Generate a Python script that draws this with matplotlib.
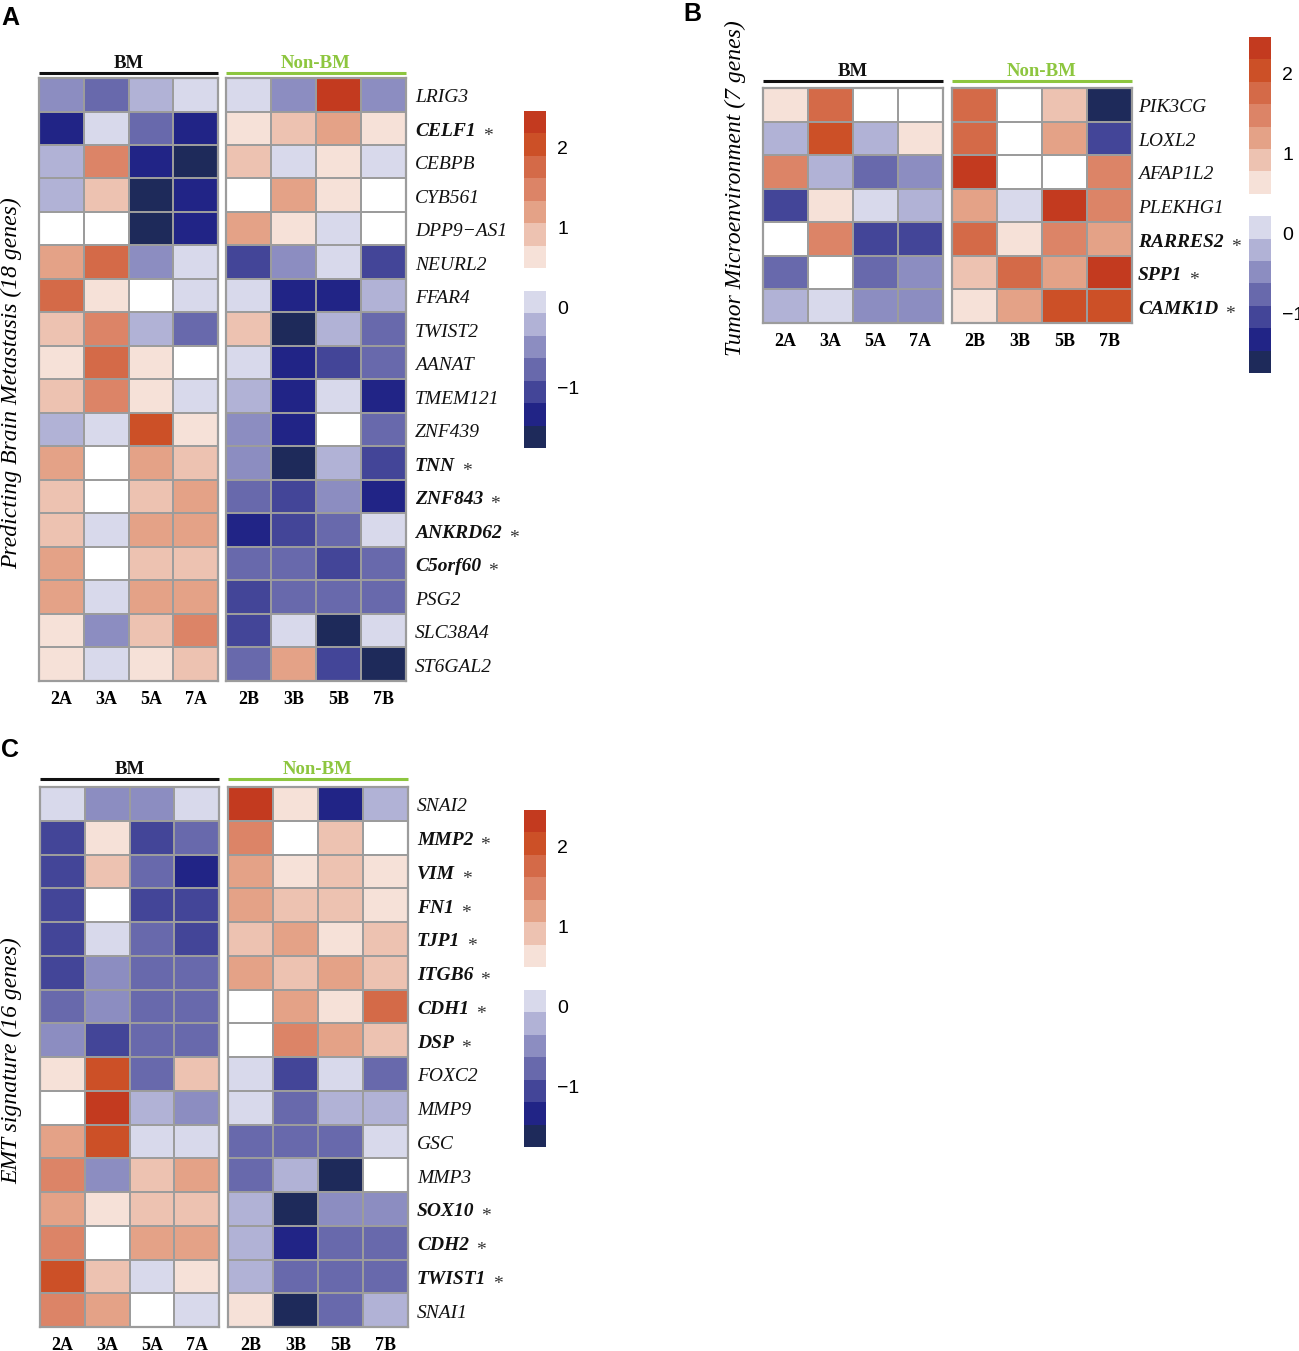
import matplotlib
matplotlib.use('Agg')
import matplotlib.pyplot as plt
import numpy as np
from matplotlib.colors import ListedColormap, BoundaryNorm
from matplotlib import transforms

# ---------------- data ----------------
samples_bm = ['2A', '3A', '5A', '7A']
samples_non = ['2B', '3B', '5B', '7B']

genes_a = ['LRIG3', 'CELF1', 'CEBPB', 'CYB561', 'DPP9\u2212AS1', 'NEURL2', 'FFAR4', 'TWIST2',
           'AANAT', 'TMEM121', 'ZNF439', 'TNN', 'ZNF843', 'ANKRD62', 'C5orf60', 'PSG2',
           'SLC38A4', 'ST6GAL2']
starred_a = ['CELF1', 'TNN', 'ZNF843', 'ANKRD62', 'C5orf60']
values_a = [
    [-0.5, -0.75, -0.2, 0.05, 0.05, -0.5, 2.3, -0.5],
    [-1.3, 0.05, -0.75, -1.3, 0.65, 0.9, 1.2, 0.65],
    [-0.2, 1.5, -1.3, -1.6, 0.9, 0.05, 0.65, 0.05],
    [-0.2, 0.9, -1.6, -1.3, 0.35, 1.2, 0.65, 0.35],
    [0.35, 0.35, -1.6, -1.3, 1.2, 0.65, 0.05, 0.35],
    [1.2, 1.75, -0.5, 0.05, -1.05, -0.5, 0.05, -1.05],
    [1.75, 0.65, 0.35, 0.05, 0.05, -1.3, -1.3, -0.2],
    [0.9, 1.5, -0.2, -0.75, 0.9, -1.6, -0.2, -0.75],
    [0.65, 1.75, 0.65, 0.35, 0.05, -1.3, -1.05, -0.75],
    [0.9, 1.5, 0.65, 0.05, -0.2, -1.3, 0.05, -1.3],
    [-0.2, 0.05, 2.05, 0.65, -0.5, -1.3, 0.35, -0.75],
    [1.2, 0.35, 1.2, 0.9, -0.5, -1.6, -0.2, -1.05],
    [0.9, 0.35, 0.9, 1.2, -0.75, -1.05, -0.5, -1.3],
    [0.9, 0.05, 1.2, 1.2, -1.3, -1.05, -0.75, 0.05],
    [1.2, 0.35, 0.9, 0.9, -0.75, -0.75, -1.05, -0.75],
    [1.2, 0.05, 1.2, 1.2, -1.05, -0.75, -0.75, -0.75],
    [0.65, -0.5, 0.9, 1.5, -1.05, 0.05, -1.6, 0.05],
    [0.65, 0.05, 0.65, 0.9, -0.75, 1.2, -1.05, -1.6],
]

genes_b = ['PIK3CG', 'LOXL2', 'AFAP1L2', 'PLEKHG1', 'RARRES2', 'SPP1', 'CAMK1D']
starred_b = ['RARRES2', 'SPP1', 'CAMK1D']
values_b = [
    [0.65, 1.75, 0.35, 0.35, 1.75, 0.35, 0.9, -1.6],
    [-0.2, 2.05, -0.2, 0.65, 1.75, 0.35, 1.2, -1.05],
    [1.5, -0.2, -0.75, -0.5, 2.3, 0.35, 0.35, 1.5],
    [-1.05, 0.65, 0.05, -0.2, 1.2, 0.05, 2.3, 1.5],
    [0.35, 1.5, -1.05, -1.05, 1.75, 0.65, 1.5, 1.2],
    [-0.75, 0.35, -0.75, -0.5, 0.9, 1.75, 1.2, 2.3],
    [-0.2, 0.05, -0.5, -0.5, 0.65, 1.2, 2.05, 2.05],
]

genes_c = ['SNAI2', 'MMP2', 'VIM', 'FN1', 'TJP1', 'ITGB6', 'CDH1', 'DSP', 'FOXC2', 'MMP9',
           'GSC', 'MMP3', 'SOX10', 'CDH2', 'TWIST1', 'SNAI1']
starred_c = ['MMP2', 'VIM', 'FN1', 'TJP1', 'ITGB6', 'CDH1', 'DSP', 'SOX10', 'CDH2', 'TWIST1']
values_c = [
    [0.05, -0.5, -0.5, 0.05, 2.3, 0.65, -1.3, -0.2],
    [-1.05, 0.65, -1.05, -0.75, 1.5, 0.35, 0.9, 0.35],
    [-1.05, 0.9, -0.75, -1.3, 1.2, 0.65, 0.9, 0.65],
    [-1.05, 0.35, -1.05, -1.05, 1.2, 0.9, 0.9, 0.65],
    [-1.05, 0.05, -0.75, -1.05, 0.9, 1.2, 0.65, 0.9],
    [-1.05, -0.5, -0.75, -0.75, 1.2, 0.9, 1.2, 0.9],
    [-0.75, -0.5, -0.75, -0.75, 0.35, 1.2, 0.65, 1.75],
    [-0.5, -1.05, -0.75, -0.75, 0.35, 1.5, 1.2, 0.9],
    [0.65, 2.05, -0.75, 0.9, 0.05, -1.05, 0.05, -0.75],
    [0.35, 2.3, -0.2, -0.5, 0.05, -0.75, -0.2, -0.2],
    [1.2, 2.05, 0.05, 0.05, -0.75, -0.75, -0.75, 0.05],
    [1.5, -0.5, 0.9, 1.2, -0.75, -0.2, -1.6, 0.35],
    [1.2, 0.65, 0.9, 0.9, -0.2, -1.6, -0.5, -0.5],
    [1.5, 0.35, 1.2, 1.2, -0.2, -1.3, -0.75, -0.75],
    [2.05, 0.9, 0.05, 0.65, -0.2, -0.75, -0.75, -0.75],
    [1.5, 1.2, 0.35, 0.05, 0.65, -1.6, -0.75, -0.2],
]

cbar_ticks = [-1, 0, 1, 2]
cbar_labels = ['\u22121', '0', '1', '2']

# ---------------- colour scale ----------------
colors = ['#1e2a5a', '#212486', '#434598', '#6869ac', '#8c8dc1', '#b1b2d6', '#d8d9eb',
          '#ffffff',
          '#f6e1d8', '#edc2b1', '#e4a287', '#dc8467', '#d46a48', '#cc5027', '#c33a1f']
edges = np.linspace(-1.75, 2.45, 16)
cmap = ListedColormap(colors)
norm = BoundaryNorm(edges, cmap.N)

SERIF = ['Liberation Serif', 'DejaVu Serif']
SANS = ['Liberation Sans', 'DejaVu Sans']
GRID = '#9c9c9c'
GREEN = '#8dc63f'

W, H = 1299, 1351
fig = plt.figure(figsize=(W / 100, H / 100), dpi=100)


def px_axes(x0, y0, x1, y1):
    return fig.add_axes([x0 / W, 1 - y1 / H, (x1 - x0) / W, (y1 - y0) / H])


def ftext(x, y, s, **kw):
    return fig.text(x / W, 1 - y / H, s, **kw)


def heat_block(box, data, samples, row_top, row_bot, label_color, label, head_dy, text_dy):
    x0, x1 = box
    ax = px_axes(x0, row_top, x1, row_bot)
    arr = np.array(data)
    ax.pcolormesh(arr, cmap=cmap, norm=norm, edgecolors=GRID, linewidth=1.3)
    ax.set_xlim(0, arr.shape[1])
    ax.set_ylim(arr.shape[0], 0)
    ax.set_xticks(np.arange(arr.shape[1]) + 0.5)
    ax.set_xticklabels(samples, fontfamily=SERIF, fontweight='bold', fontsize=13)
    ax.set_yticks([])
    ax.tick_params(axis='x', length=0, pad=7.5)
    for sp in ax.spines.values():
        sp.set_color(GRID)
        sp.set_linewidth(1.6)
    hpx = row_bot - row_top
    ax.plot([0, 1], [1 + head_dy / hpx] * 2, transform=ax.transAxes, clip_on=False,
            color=label_color, lw=2.2, solid_capstyle='butt')
    ax.text(0.5, 1 + text_dy / hpx, label, transform=ax.transAxes, ha='center', va='center',
            fontfamily=SERIF, fontweight='bold', fontsize=13.5,
            color=('#111111' if label == 'BM' else GREEN))
    return ax


def panel(genes, starred, values, row_top, row_bot, bm_box, non_box, head_dy, text_dy, gene_dx):
    bm = [r[:4] for r in values]
    non = [r[4:] for r in values]
    heat_block(bm_box, bm, samples_bm, row_top, row_bot, '#111111', 'BM', head_dy, text_dy)
    ax = heat_block(non_box, non, samples_non, row_top, row_bot, GREEN, 'Non-BM', head_dy, text_dy)
    trans = transforms.blended_transform_factory(ax.transAxes, ax.transData) + \
        transforms.ScaledTranslation(gene_dx / 100, -3 / 100, fig.dpi_scale_trans)
    renderer = fig.canvas.get_renderer()
    for i, g in enumerate(genes):
        star = g in starred
        t = ax.text(1, i + 0.5, g, transform=trans, ha='left', va='center',
                    fontfamily=SERIF, fontstyle='italic', fontsize=14,
                    fontweight=('bold' if star else 'normal'), color='#111111')
        if star:
            bb = t.get_window_extent(renderer)
            ystar = (bb.y0 + bb.y1) / 2 - 5
            fig.text((bb.x1 + 7) / W, ystar / H, '*', ha='left', va='center',
                     fontfamily=SERIF, fontsize=14, color='#333333')


def cbar(x0, y0, x1, y1):
    ax = px_axes(x0, y0, x1, y1)
    centers = (edges[:-1] + edges[1:]) / 2
    ax.pcolormesh([0, 1], edges, centers.reshape(-1, 1), cmap=cmap, norm=norm)
    ax.set_ylim(edges[0], edges[-1])
    ax.set_xticks([])
    ax.yaxis.tick_right()
    ax.set_yticks(cbar_ticks)
    ax.set_yticklabels(cbar_labels, fontfamily=SANS, fontsize=14)
    ax.tick_params(axis='y', length=0, pad=8)
    for sp in ax.spines.values():
        sp.set_visible(False)


# Panel A
panel(genes_a, starred_a, values_a, 78, 681, (39, 218), (226, 406), 5, 15, 9)
cbar(524, 111, 546, 448)
ftext(12, 383, 'Predicting Brain Metastasis (18 genes)', rotation=90, ha='center', va='center',
      fontfamily=SERIF, fontstyle='italic', fontsize=17)
ftext(10, 18, 'A', ha='center', va='center', fontfamily=SANS, fontweight='bold', fontsize=18)

# Panel B
panel(genes_b, starred_b, values_b, 88, 323, (763, 943), (952, 1132), 7, 17, 6)
cbar(1249, 37, 1271, 373)
ftext(735, 188, 'Tumor Microenvironment (7 genes)', rotation=90, ha='center', va='center',
      fontfamily=SERIF, fontstyle='italic', fontsize=17)
ftext(692, 14, 'B', ha='center', va='center', fontfamily=SANS, fontweight='bold', fontsize=18)

# Panel C
panel(genes_c, starred_c, values_c, 787, 1327, (40, 219), (228, 408), 8, 17, 9)
cbar(524, 810, 546, 1147)
ftext(12, 1061, 'EMT signature (16 genes)', rotation=90, ha='center', va='center',
      fontfamily=SERIF, fontstyle='italic', fontsize=17)
ftext(10, 750, 'C', ha='center', va='center', fontfamily=SANS, fontweight='bold', fontsize=18)

fig.savefig('out.png', dpi=100)
